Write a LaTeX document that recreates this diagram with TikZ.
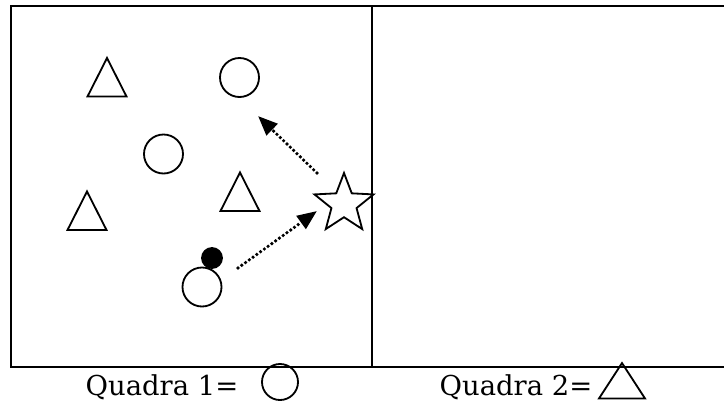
\documentclass[tikz,border=0pt]{standalone}
\usepackage{fontspec}
\setmainfont{DejaVu Serif}
\usetikzlibrary{arrows.meta, positioning, shapes.geometric}

\begin{document}
\begin{tikzpicture}[
        x=0.025cm, y=-0.025cm,
        line width=1.3pt,
        ring/.style={draw, circle, inner sep=0pt, minimum size=0.975cm},
        tri/.pic={\draw (-19.5,19) -- (0,-19.5) -- (19.5,19) -- cycle;},
        flow/.style={-{Triangle[length=14pt, width=11pt]}, line width=2.6pt,
                     line cap=round, dash pattern=on 0pt off 3.3pt},
        lbl/.style={anchor=base, font=\fontsize{19.5}{24}\selectfont},
      ]
        \useasboundingbox (0,0) rectangle (724,403);
        % field
        \draw (730,6) -- (11,6) -- (11,367) -- (730,367);
        \draw (372,6) -- (372,367);
        % players
        \pic at (107,77.5) {tri};
        \pic at (87,211)   {tri};
        \pic at (240,192)  {tri};
        \node[ring] (c1) at (239.5,77.5) {};
        \node[ring] (c2) at (163.5,154) {};
        \node[ring] (c3) at (202,287) {};
        \node[draw, fill, circle, inner sep=0pt, minimum size=0.5cm] (ball) at (212,258) {};
        \node[draw, star, star points=5, star point ratio=2.35, inner sep=0pt,
              minimum size=1.55cm] (st) at (344,204) {};
        % moves
        \coordinate (m1a) at (317,173);
        \coordinate (m1b) at (258,116);
        \coordinate (m2a) at (238,268);
        \coordinate (m2b) at (317,211);
        \draw[flow] (m1a) -- (m1b);
        \draw[flow] (m2a) -- (m2b);
        % legend
        \node[lbl] (q1) at (162,395) {Quadra 1=};
        \node[ring, minimum size=0.9cm] (q1c) at (280,382) {};
        \node[lbl] (q2) at (516,395) {Quadra 2=};
        \pic[xscale=1.18, yscale=0.92] at (622,381) {tri};
      \end{tikzpicture}
\end{document}
